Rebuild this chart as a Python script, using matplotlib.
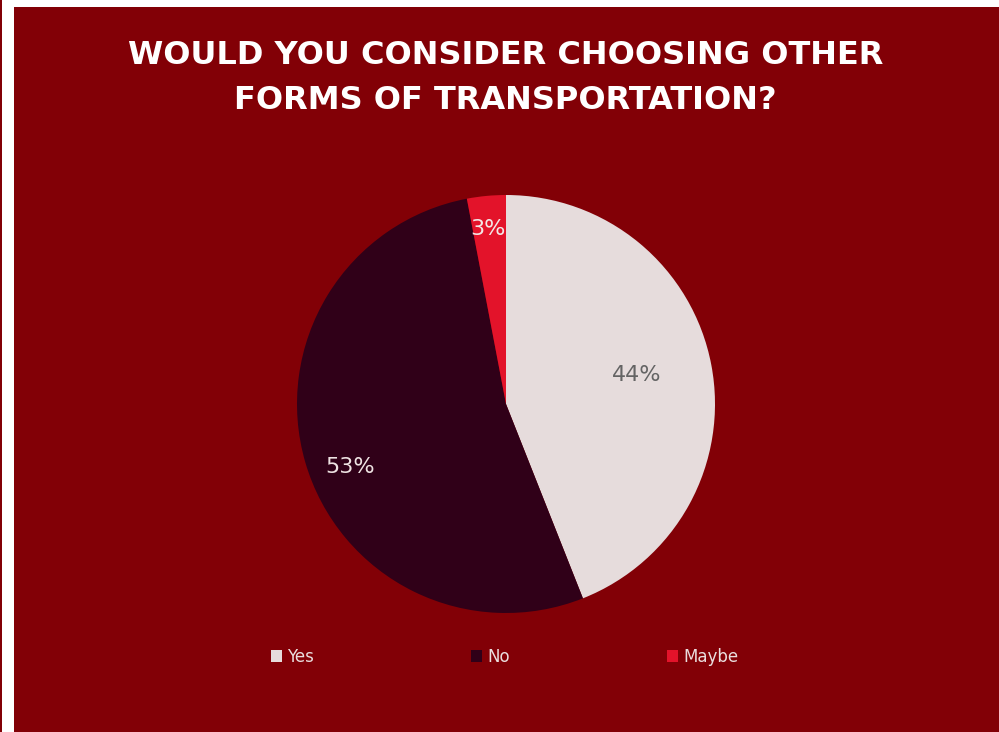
import matplotlib
matplotlib.use("Agg")
import matplotlib.pyplot as plt
from matplotlib.patches import Rectangle, Patch
import numpy as np

# data
labels = ["Yes", "No", "Maybe"]
shares = [44, 53, 3]
colors = ["#e6dcdc", "#300018", "#e3132a"]
pct_colors = ["#646464", "#eee2e2", "#f3e6e6"]
# label placement: distance from centre (radius units), angle nudge (deg)
pct_dist = [0.64, 0.805, 0.84]
pct_nudge = [1.8, 5.8, 0.5]

title = "WOULD YOU CONSIDER CHOOSING OTHER\nFORMS OF TRANSPORTATION?"
bg = "#820006"

fig = plt.figure(figsize=(9.99, 7.32), dpi=100, facecolor="white")

# red panel with the white margin on the left/top
fig.patches.append(Rectangle((14 / 999, 0), 1 - 14 / 999, 1 - 7 / 732,
                             transform=fig.transFigure, facecolor=bg,
                             edgecolor="none", zorder=-10))
fig.patches.append(Rectangle((0, 0), 2 / 999, 1,
                             transform=fig.transFigure, facecolor=bg,
                             edgecolor="none", zorder=-10))

ax = fig.add_axes([297 / 999, 119 / 732, 418 / 999, 418 / 732])
ax.set_facecolor("none")
ax.set_zorder(5)

wedges, _ = ax.pie(shares, colors=colors, startangle=90, counterclock=False,
                   radius=1.0, wedgeprops=dict(linewidth=0))

for w, val, c, d, nudge in zip(wedges, shares, pct_colors, pct_dist, pct_nudge):
    mid = np.deg2rad((w.theta1 + w.theta2) / 2 + nudge)
    ax.text(d * np.cos(mid), d * np.sin(mid), f"{val}%", ha="center",
            va="center", fontsize=16, color=c, family="DejaVu Sans")

ax.set_xlim(-1, 1)
ax.set_ylim(-1, 1)
ax.set_aspect("equal")
ax.axis("off")

fig.text(0.506, 1 - 78 / 732, title, ha="center", va="center",
         fontsize=23, fontweight="bold", color="white",
         linespacing=1.55, family="DejaVu Sans")

handles = [Patch(facecolor=c, edgecolor="none") for c in colors]
leg = fig.legend(handles, labels, loc="center", ncol=3,
                 bbox_to_anchor=(0.505, 1 - 657 / 732), frameon=False,
                 fontsize=12, labelcolor="#eadede", handlelength=0.7,
                 handleheight=0.7, handletextpad=0.3, columnspacing=9.4)

fig.savefig("out.png", dpi=100, facecolor=fig.get_facecolor())
